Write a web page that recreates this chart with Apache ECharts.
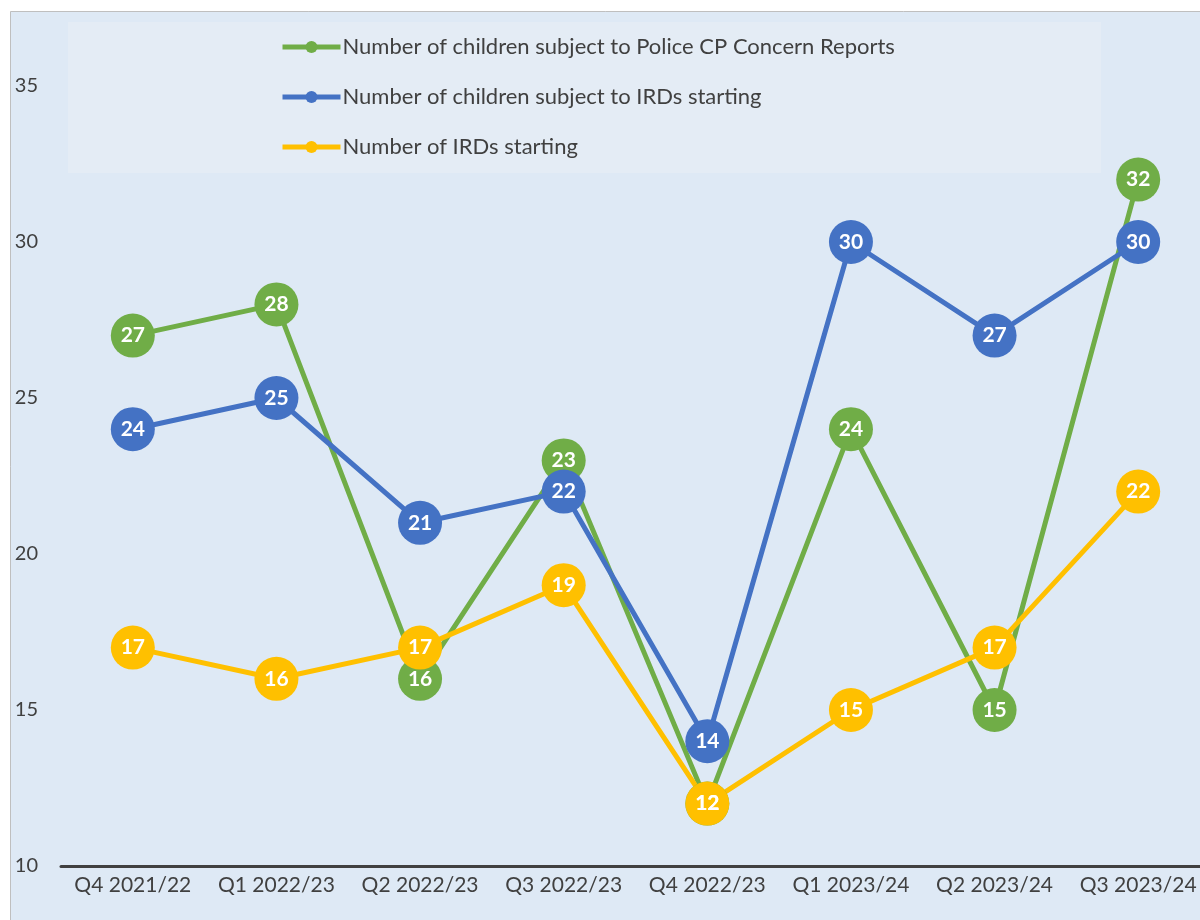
<!DOCTYPE html>
<html><head><meta charset="utf-8">
<script src="https://cdn.jsdelivr.net/npm/echarts@6/dist/echarts.min.js"></script>
<style>html,body{margin:0;padding:0;background:#fff;}#c{width:1200px;height:920px;}</style>
</head><body><div id="c"></div>
<script>
const categories = ['Q4 2021/22','Q1 2022/23','Q2 2022/23','Q3 2022/23','Q4 2022/23','Q1 2023/24','Q2 2023/24','Q3 2023/24'];
const policeReports = [27, 28, 16, 23, 12, 24, 15, 32];
const childrenIRDs = [24, 25, 21, 22, 14, 30, 27, 30];
const irdsStarting = [17, 16, 17, 19, 12, 15, 17, 22];
const seriesNames = ['Number of children subject to Police CP Concern Reports','Number of children subject to IRDs starting','Number of IRDs starting'];
const colors = ['#70ad47', '#4472c4', '#ffc000'];
const FONT = 'Lato, "Open Sans", sans-serif';

const chart = echarts.init(document.getElementById('c'), null, {renderer: 'canvas'});
function mk(name, data, color) {
  return {
    name, type: 'line', data,
    symbol: 'circle', symbolSize: 44,
    lineStyle: {color, width: 5},
    itemStyle: {color},
    label: {show: true, position: 'inside', color: '#fff', fontWeight: 'bold', fontSize: 21, fontFamily: FONT},
    emphasis: {disabled: true},
    animation: false
  };
}
chart.setOption({
  animation: false,
  graphic: [
    {type: 'rect', shape: {x: 10.5, y: 11.5, width: 1200, height: 920}, style: {fill: '#dee9f5', stroke: '#bfbfbf', lineWidth: 1}, z: -10, silent: true},
    {type: 'rect', shape: {x: 68, y: 22, width: 1033, height: 151}, style: {fill: '#e4ecf5'}, z: -9, silent: true}
  ],
  legend: {
    orient: 'vertical', left: 280, top: 36, padding: 0, itemGap: 28, itemWidth: 58, itemHeight: 15,
    lineStyle: {width: 5},
    textStyle: {fontSize: 22, color: '#404040', fontFamily: FONT, padding: [0,0,0,-3]},
    data: seriesNames
  },
  grid: {left: 61, top: 86, width: 1149, bottom: 54, outerBoundsMode: 'none'},
  xAxis: {
    type: 'category', data: categories, boundaryGap: true,
    axisLine: {lineStyle: {color: '#404040', width: 3}},
    axisTick: {show: false},
    axisLabel: {fontSize: 21, color: '#404040', fontFamily: FONT, margin: 9, interval: 0}
  },
  yAxis: {
    type: 'value', min: 10, max: 35, interval: 5,
    axisLine: {show: false}, axisTick: {show: false}, splitLine: {show: false},
    axisLabel: {fontSize: 20, color: '#404040', fontFamily: FONT, margin: 23}
  },
  series: [
    mk(seriesNames[0], policeReports, colors[0]),
    mk(seriesNames[1], childrenIRDs, colors[1]),
    mk(seriesNames[2], irdsStarting, colors[2])
  ]
});
</script></body></html>
